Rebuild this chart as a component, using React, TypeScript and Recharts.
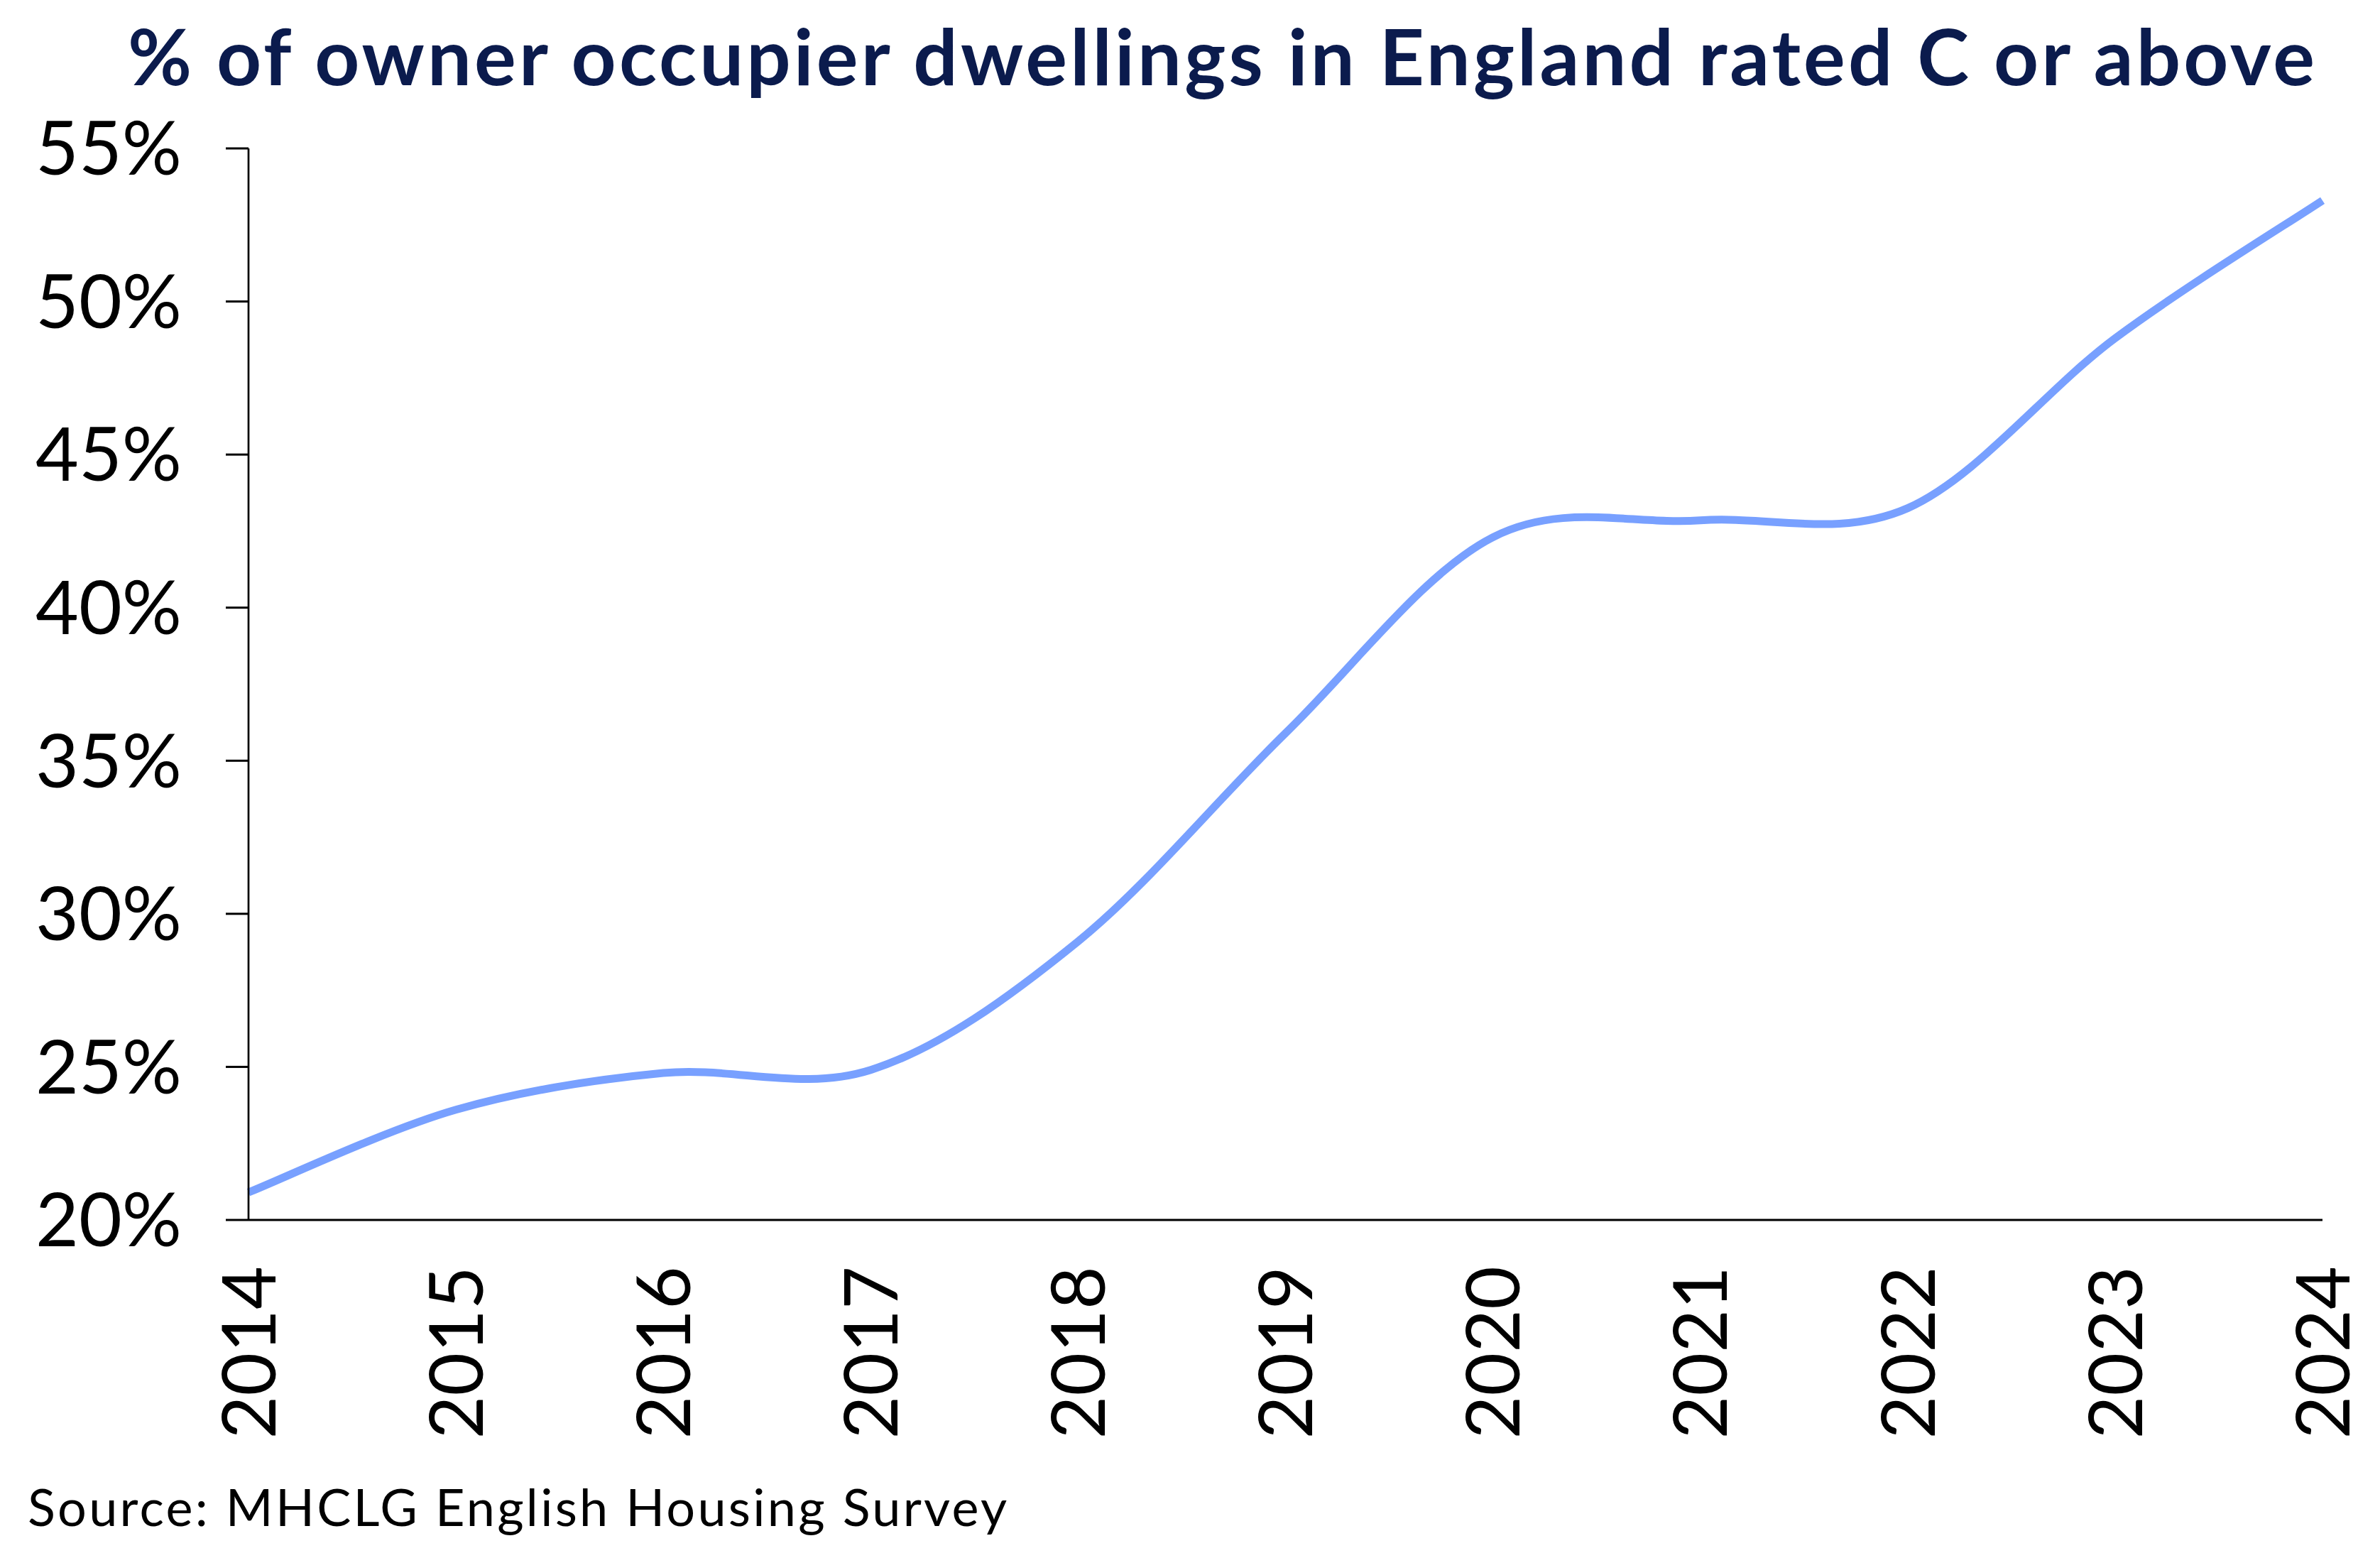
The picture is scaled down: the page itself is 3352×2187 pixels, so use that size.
import { LineChart, Line, XAxis, YAxis } from 'recharts';

const years = [2014, 2015, 2016, 2017, 2018, 2019, 2020, 2021, 2022, 2023, 2024];
const ratedC = [20.9, 23.6, 24.8, 24.9, 29.1, 35.9, 42.3, 42.85, 43.25, 48.8, 53.3];
const yTicks = [20, 25, 30, 35, 40, 45, 50, 55];

const TITLE = '% of owner occupier dwellings in England rated C or above';
const SOURCE = 'Source: MHCLG English Housing Survey';

const data = years.map((year, i) => ({ year, value: ratedC[i] }));

const FONT = 'Lato, "Open Sans", sans-serif';

// Excel-style smoothed line (uniform Catmull-Rom through each point)
class SmoothCurve {
  _context: any;
  _pts: number[][] = [];
  constructor(context: any) {
    this._context = context;
  }
  areaStart() {}
  areaEnd() {}
  lineStart() {
    this._pts = [];
  }
  point(x: number, y: number) {
    this._pts.push([+x, +y]);
  }
  lineEnd() {
    const p = this._pts;
    const c = this._context;
    const n = p.length;
    if (!n) return;
    c.moveTo(p[0][0], p[0][1]);
    for (let i = 0; i < n - 1; i++) {
      const p0 = p[Math.max(i - 1, 0)];
      const p1 = p[i];
      const p2 = p[i + 1];
      const p3 = p[Math.min(i + 2, n - 1)];
      c.bezierCurveTo(
        p1[0] + (p2[0] - p0[0]) / 6,
        p1[1] + (p2[1] - p0[1]) / 6,
        p2[0] - (p3[0] - p1[0]) / 6,
        p2[1] - (p3[1] - p1[1]) / 6,
        p2[0],
        p2[1]
      );
    }
  }
}
const smooth = (context: any) => new SmoothCurve(context);

function YearTick({ x, y, payload }: any) {
  return (
    <text
      x={x}
      y={y}
      transform={`rotate(-90, ${x}, ${y})`}
      textAnchor="end"
      dy="0.36em"
      fontFamily={FONT}
      fontSize={105}
      fill="#000"
    >
      {payload.value}
    </text>
  );
}

export default function App() {
  return (
    <div style={{ position: 'absolute', left: 0, top: 0, width: 3352, height: 2187, background: '#fff' }}>
      <LineChart
        width={3352}
        height={2187}
        data={data}
        margin={{ top: 209, right: 81, bottom: 169, left: 0 }}
      >
        <XAxis
          dataKey="year"
          type="number"
          domain={[2014, 2024]}
          ticks={years}
          interval={0}
          height={300}
          tickLine={false}
          tickSize={0}
          tickMargin={65}
          tick={<YearTick />}
          axisLine={{ stroke: '#000', strokeWidth: 3 }}
        />
        <YAxis
          domain={[20, 55]}
          ticks={yTicks}
          interval={0}
          width={350}
          tickSize={32}
          tickMargin={62}
          tickFormatter={(v: number) => `${v}%`}
          tick={{ fontFamily: FONT, fontSize: 105, fill: '#000' }}
          tickLine={{ stroke: '#000', strokeWidth: 3 }}
          axisLine={{ stroke: '#000', strokeWidth: 2.7 }}
        />
        <Line
          dataKey="value"
          type={smooth as any}
          stroke="#78A0FF"
          strokeWidth={11}
          dot={false}
          activeDot={false}
          isAnimationActive={false}
        />
      </LineChart>
      <svg
        width={3352}
        height={2187}
        style={{ position: 'absolute', left: 0, top: 0, pointerEvents: 'none' }}
      >
        <text
          x={180}
          y={120}
          fontFamily={FONT}
          fontWeight={700}
          fontSize={110}
          fill="#0B1B4D"
          textLength={3080}
          lengthAdjust="spacing"
        >
          {TITLE}
        </text>
        <text
          x={39}
          y={2149}
          fontFamily={FONT}
          fontSize={72}
          fill="#000"
          textLength={1379}
          lengthAdjust="spacing"
        >
          {SOURCE}
        </text>
      </svg>
    </div>
  );
}
